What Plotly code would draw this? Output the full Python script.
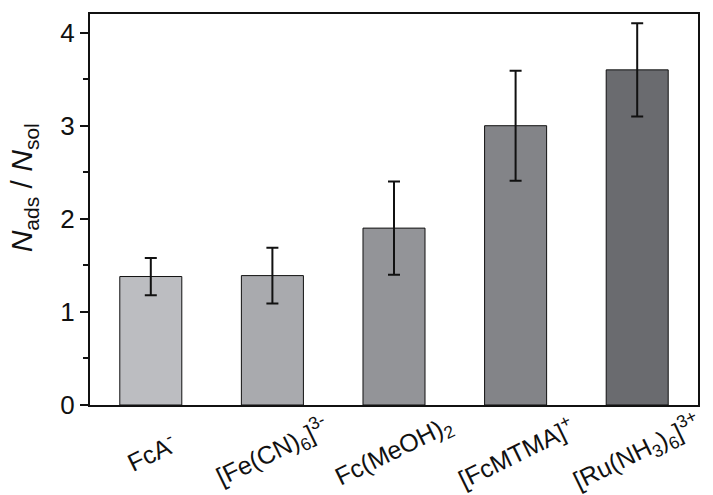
import plotly.graph_objects as go

# Adsorbed vs. solution ratio for each redox probe
labels = [
    "FcA<sup>-</sup>",
    "[Fe(CN)<sub>6</sub>]<sup>3-</sup>",
    "Fc(MeOH)<sub>2</sub>",
    "[FcMTMA]<sup>+</sup>",
    "[Ru(NH<sub>3</sub>)<sub>6</sub>]<sup>3+</sup>",
]
ratio = [1.38, 1.39, 1.90, 3.00, 3.60]
ratio_err = [0.20, 0.30, 0.50, 0.59, 0.50]
bar_colors = ["#bcbdc1", "#a9aaae", "#939498", "#838488", "#6a6b6f"]

positions = list(range(len(labels)))

fig = go.Figure()
fig.add_trace(go.Bar(
    x=positions,
    y=ratio,
    width=0.51,
    marker=dict(color=bar_colors, line=dict(color="#111111", width=1)),
    error_y=dict(type="data", array=ratio_err, visible=True,
                 color="#111111", thickness=2, width=6),
))

font_family = "Liberation Sans, Arial, sans-serif"

# Slanted category labels under each bar
for pos, lab in zip(positions, labels):
    fig.add_annotation(
        x=pos, xref="x", y=0, yref="paper",
        text=lab, showarrow=False, textangle=-26,
        xanchor="center", yanchor="middle", yshift=-47,
        font=dict(family=font_family, size=25, color="#111111"),
    )

# Rotated y-axis title
fig.add_annotation(
    x=-0.108, xref="paper", y=0.555, yref="paper",
    text="<i>N</i><sub>ads</sub> / <i>N</i><sub>sol</sub>",
    showarrow=False, textangle=-90,
    xanchor="center", yanchor="middle",
    font=dict(family=font_family, size=30, color="#111111"),
)

fig.update_layout(
    width=713, height=495,
    margin=dict(l=90, r=15, t=12, b=90),
    paper_bgcolor="white", plot_bgcolor="white",
    showlegend=False,
    font=dict(family=font_family, color="#111111", size=22),
    xaxis=dict(
        range=[-0.5, 4.5],
        tickvals=positions,
        showticklabels=False,
        ticks="",
        showline=True, linecolor="#111111", linewidth=2, mirror=True,
        showgrid=False, zeroline=False,
    ),
    yaxis=dict(
        range=[0, 4.2],
        tickvals=[0, 1, 2, 3, 4],
        ticks="outside", ticklen=8, tickwidth=2, tickcolor="#111111",
        minor=dict(dtick=0.5, ticks="outside", ticklen=5, tickwidth=1.5,
                   tickcolor="#111111", showgrid=False),
        showline=True, linecolor="#111111", linewidth=2, mirror=True,
        showgrid=False, zeroline=False,
        tickfont=dict(size=26),
    ),
)

fig.write_html("out.html")
